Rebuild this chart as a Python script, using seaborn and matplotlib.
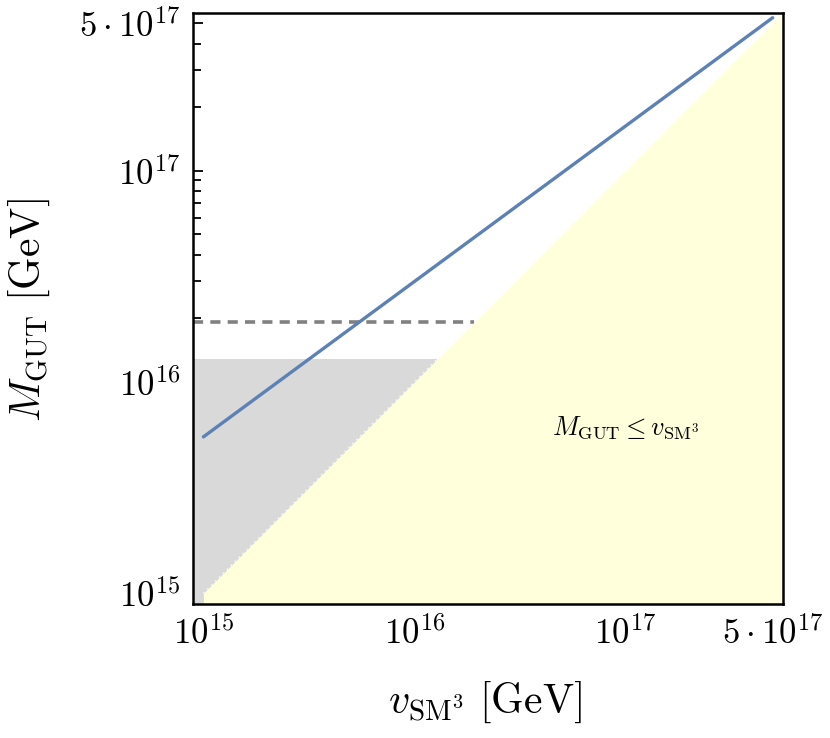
import numpy as np
import seaborn as sns
import matplotlib.pyplot as plt
from matplotlib.ticker import FixedLocator, LogLocator, NullFormatter

# plot range (both axes, GeV)
x_range = [8.9e14, 5.6e17]
y_range = [8.9e14, 5.6e17]

# blue curve M_GUT versus v_SM3 (straight line in log-log)
v_curve = [1e15, 5e17]
m_curve = [5.5e15, 5.3e17]

# horizontal levels
m_dashed = 1.92e16
m_gray = 1.285e16

# yellow region starts at
v_yellow_start = 1e15

tick_vals = [1e15, 1e16, 1e17, 5e17]
tick_labels = [r'$10^{15}$', r'$10^{16}$', r'$10^{17}$', r'$5\cdot10^{17}$']

sns.set_style("ticks")
plt.rcParams['mathtext.fontset'] = 'cm'
plt.rcParams['font.family'] = ['DejaVu Serif']

fig = plt.figure(figsize=(8.3, 7.38), dpi=100)
ax = fig.add_axes([0.2322, 0.1816, 0.9434 - 0.2322, 0.9828 - 0.1816])
ax.set_xscale('log')
ax.set_yscale('log')
ax.set_xlim(x_range)
ax.set_ylim(y_range)

# gray band above the diagonal, below m_gray
ax.fill_between([x_range[0], m_gray], y_range[0], m_gray,
                color='#d9d9d9', lw=0, zorder=1)
# dashed level
sns.lineplot(x=[x_range[0], m_dashed], y=[m_dashed, m_dashed], ax=ax,
             color='#808080', lw=2.6, zorder=2)
ax.lines[-1].set_dashes((2.8, 2.0))
# yellow region M_GUT <= v
v_fill = np.array([v_yellow_start, x_range[1]])
ax.fill_between(v_fill, y_range[0], v_fill, color='#ffffdc', lw=0, zorder=3)
# faint white edge on the diagonal inside the gray band
ax.plot([v_yellow_start, m_gray], [v_yellow_start, m_gray], color='white',
        lw=1.0, ls=(0, (1, 3)), zorder=4)

# the curve
sns.lineplot(x=v_curve, y=m_curve, ax=ax, color='#5e81b5', lw=2.4, zorder=5)

ax.text(1.0e17, 6.1e15, r'$M_{\rm GUT} \leq v_{\rm SM^3}$', fontsize=19,
        ha='center', va='center', color='black', zorder=6)

for a in (ax.xaxis, ax.yaxis):
    a.set_major_locator(FixedLocator(tick_vals))
    a.set_minor_locator(LogLocator(base=10, subs=np.arange(2, 10)))
    a.set_minor_formatter(NullFormatter())
ax.set_xticklabels(tick_labels)
ax.set_yticklabels(tick_labels)

ax.tick_params(which='both', direction='in', top=False, right=False,
               width=1.3, color='black', labelcolor='black', labelsize=25)
ax.tick_params(which='major', length=7, pad=9)
ax.tick_params(which='minor', length=6)
for s in ax.spines.values():
    s.set_linewidth(1.8)
    s.set_color('black')
    s.set_zorder(10)

ax.set_xlabel(r'$v_{\rm SM^3}\ [{\rm GeV}]$', fontsize=30, color='black')
ax.set_ylabel(r'$M_{\rm GUT}\ [{\rm GeV}]$', fontsize=30, color='black')
ax.xaxis.set_label_coords(0.495, -0.128)
ax.yaxis.set_label_coords(-0.238, 0.497)

fig.savefig('out.png', dpi=100)
